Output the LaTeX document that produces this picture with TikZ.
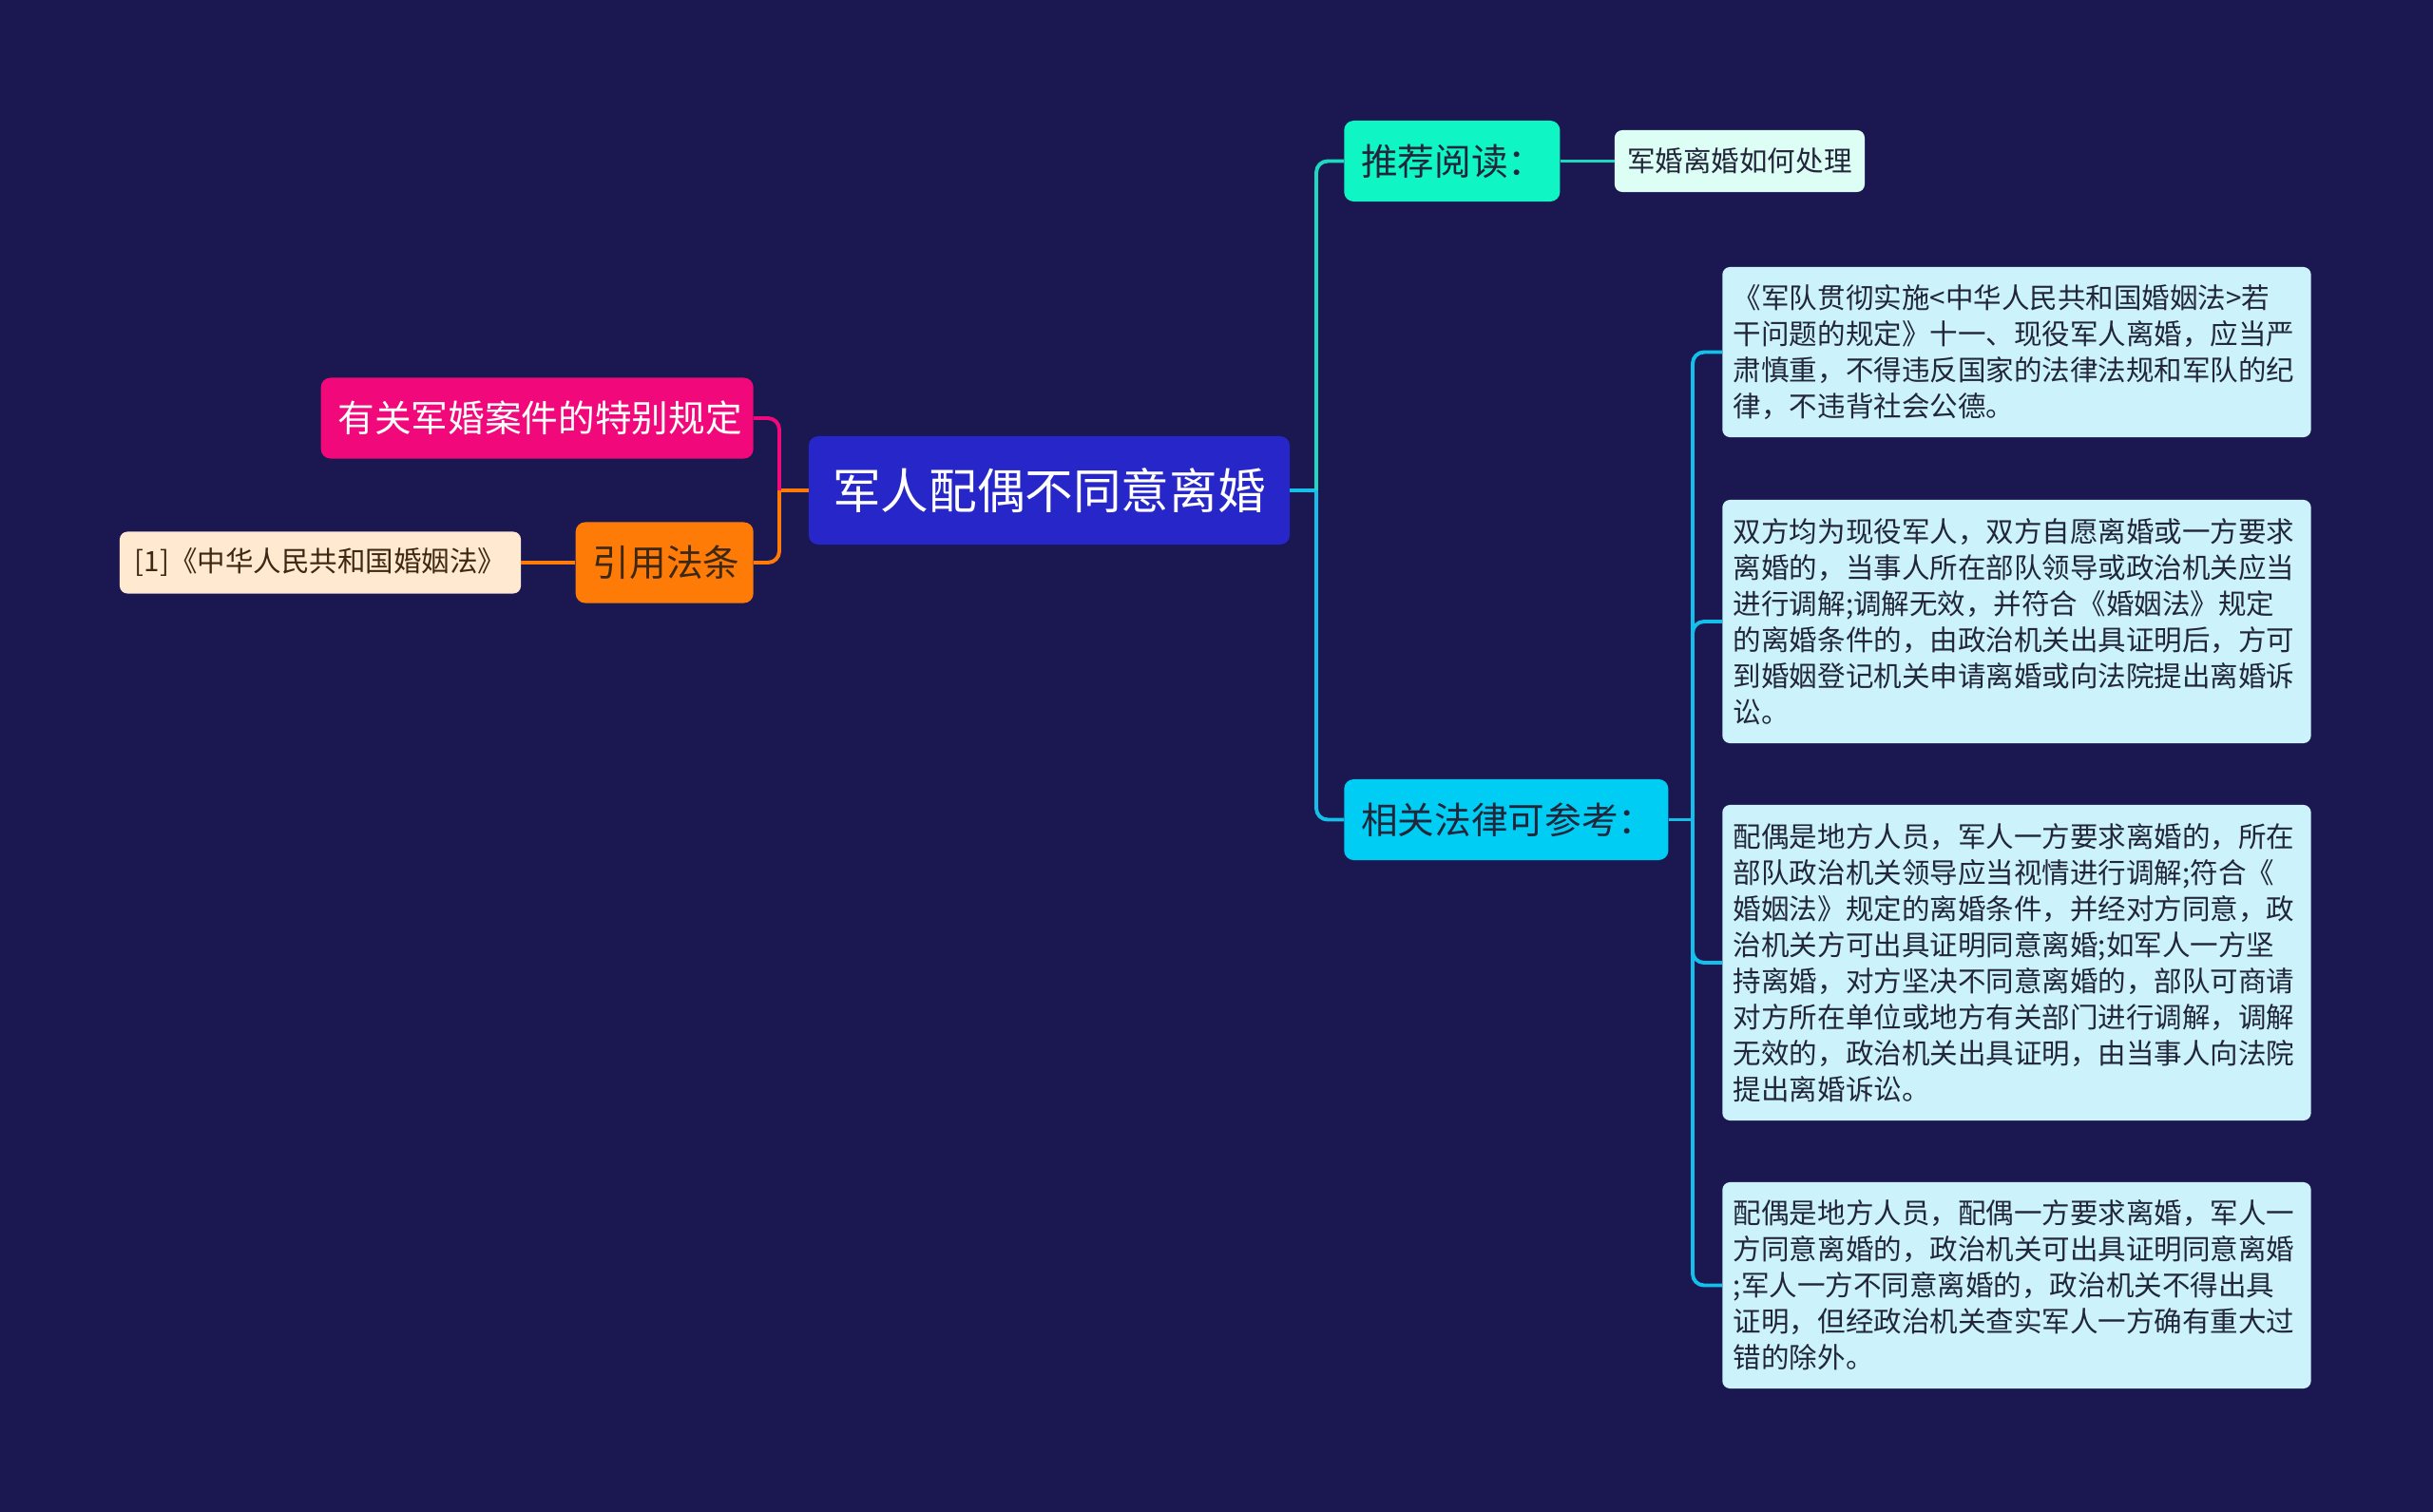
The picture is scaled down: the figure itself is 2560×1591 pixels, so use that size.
\documentclass[tikz,border=0pt]{standalone}
\usepackage{fontspec}
\setmainfont{Noto Sans CJK SC}
\usepackage{tikz}
\usetikzlibrary{positioning}

\definecolor{bgnavy}{HTML}{1A1751}
\definecolor{topicblue}{HTML}{2727C9}
\definecolor{recgreen}{HTML}{10F5C4}
\definecolor{lawcyan}{HTML}{00CDF4}
\definecolor{rulepink}{HTML}{F1087B}
\definecolor{citeorange}{HTML}{FF7B07}
\definecolor{mintfill}{HTML}{DDFEF4}
\definecolor{lawfill}{HTML}{CCF3FC}
\definecolor{peachfill}{HTML}{FFE9D0}
\definecolor{inkdark}{HTML}{21263A}
\definecolor{inkbrown}{HTML}{3D2814}
\definecolor{reclink}{HTML}{1ED9C0}
\definecolor{lawlink}{HTML}{14BFEA}

\begin{document}
\begin{tikzpicture}[
  x=0.025cm, y=-0.025cm,
  node distance=1.425cm,
  box/.style={rounded corners=0.25cm, inner sep=0pt, align=center},
  topic/.style={box, fill=topicblue, text=white, minimum width=12.65cm, minimum height=2.85cm, font=\fontsize{36}{43}\selectfont},
  branch/.style={box, align=left, inner xsep=0.45cm, minimum height=2.125cm, font=\fontsize{27.5}{33}\selectfont},
  item/.style={box, rounded corners=0.2cm, minimum height=1.625cm, text=inkdark, font=\fontsize{21}{27}\selectfont},
  lawitem/.style={item, fill=lawfill, align=left, text width=14.9cm, inner xsep=0.29cm, anchor=west},
  link/.style={line width=2.8pt, rounded corners=0.3cm}
]
\fill[bgnavy] (0,0) rectangle (2560,1591);

\node[topic] (topic) at (1104,516) {军人配偶不同意离婚};

% right side
\node[branch, fill=recgreen, text=inkdark, text width=4.775cm, anchor=west] (rec) at (1414,169.5) {推荐阅读：};
\node[item, fill=mintfill, minimum width=6.575cm, right=of rec] (recitem) {军婚离婚如何处理};
\node[branch, fill=lawcyan, text=inkdark, text width=7.625cm, anchor=west] (law) at (1414,862.5) {相关法律可参考：};

\node[lawitem, minimum height=4.475cm] (law1) at (1812,370.5) {《军队贯彻实施<中华人民共和国婚姻法>若\\
干问题的规定》十一、现役军人离婚，应当严\\
肃慎重，不得违反国家的法律法规和军队的纪\\
律，不违背社会公德。};
\node[lawitem, minimum height=6.4cm] (law2) at (1812,654) {双方均为现役军人，双方自愿离婚或一方要求\\
离婚的，当事人所在部队领导或政治机关应当\\
进行调解;调解无效，并符合《婚姻法》规定\\
的离婚条件的，由政治机关出具证明后，方可\\
到婚姻登记机关申请离婚或向法院提出离婚诉\\
讼。};
\node[lawitem, minimum height=8.3cm] (law3) at (1812,1013) {配偶是地方人员，军人一方要求离婚的，所在\\
部队政治机关领导应当视情进行调解;符合《\\
婚姻法》规定的离婚条件，并经对方同意，政\\
治机关方可出具证明同意离婚;如军人一方坚\\
持离婚，对方坚决不同意离婚的，部队可商请\\
对方所在单位或地方有关部门进行调解，调解\\
无效的，政治机关出具证明，由当事人向法院\\
提出离婚诉讼。};
\node[lawitem, minimum height=5.425cm] (law4) at (1812,1352.5) {配偶是地方人员，配偶一方要求离婚，军人一\\
方同意离婚的，政治机关可出具证明同意离婚\\
;军人一方不同意离婚的，政治机关不得出具\\
证明，但经政治机关查实军人一方确有重大过\\
错的除外。};

% left side
\node[branch, fill=rulepink, text=white, text width=10.475cm, anchor=east] (rule) at (793,440) {有关军婚案件的特别规定};
\node[branch, fill=citeorange, text=inkbrown, text width=3.775cm, anchor=east] (cite) at (793,592) {引用法条};
\node[item, fill=peachfill, text=inkbrown, minimum width=10.55cm, left=of cite] (citeitem) {[1]《中华人民共和国婚姻法》};

% connectors
\coordinate (jr) at (1385,516);
\coordinate (jl) at (820,516);
\coordinate (jlaw) at (1781,862.5);
\draw[link, lawlink] (topic.east) -- (jr);
\draw[link, reclink] (jr) |- (rec.west);
\draw[link, lawlink] (jr) |- (law.west);
\draw[link, reclink] (rec.east) -- (recitem.west);
\draw[link, lawlink] (law.east) -- (jlaw);
\foreach \n in {law1,law2,law3,law4} {\draw[link, lawlink] (jlaw) |- (\n.west);}
\draw[link, citeorange] (topic.west) -- (jl);
\draw[link, rulepink] (jl) |- (rule.east);
\draw[link, citeorange] (jl) |- (cite.east);
\draw[link, citeorange] (cite.west) -- (citeitem.east);
\end{tikzpicture}
\end{document}
